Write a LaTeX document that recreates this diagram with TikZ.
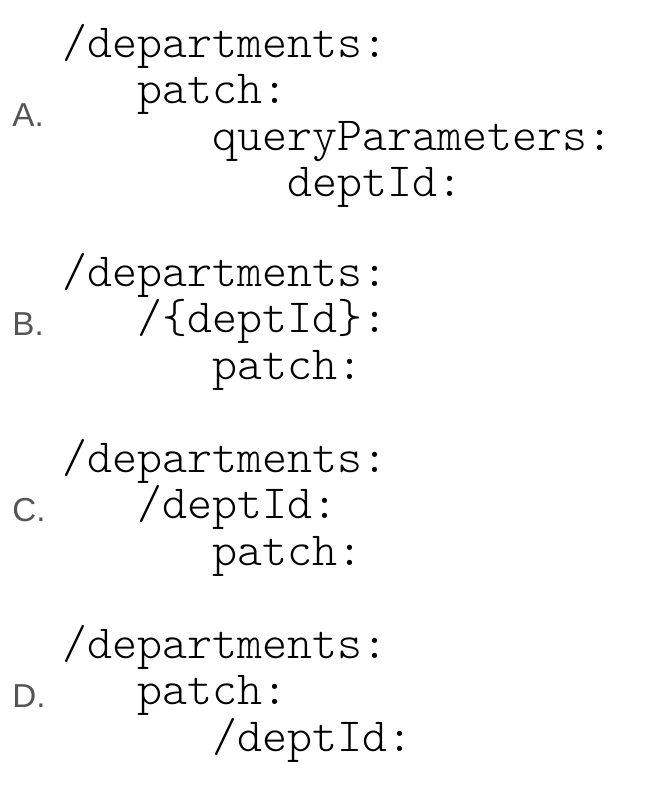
\documentclass[tikz,border=0pt]{standalone}
\usepackage{fontspec}
\setmonofont{Latin Modern Mono Light}
\newfontfamily\labelfont{Liberation Sans}
\usepackage{xcolor}
\definecolor{labelgray}{HTML}{555555}

\begin{document}
\begin{tikzpicture}[x=0.5pt,y=-0.5pt,
  code/.style={anchor=base west,inner sep=0pt,font=\ttfamily\fontsize{23.8}{26}\selectfont},
  tag/.style={anchor=base west,inner sep=0pt,text=labelgray,font=\labelfont\fontsize{16.6}{18}\selectfont}]
\useasboundingbox (0,0) rectangle (648,798);

\node[tag] (la) at (12,126) {A.};
\node[code] (a1) at (62,57) {/departments:};
\node[code] (a2) at (137,103.5) {patch:};
\node[code] (a3) at (212,150) {queryParameters:};
\node[code] (a4) at (287,196.5) {deptId:};

\node[tag] (lb) at (12,335) {B.};
\node[code] (b1) at (62,286) {/departments:};
\node[code] (b2) at (137,332.5) {/\{deptId\}:};
\node[code] (b3) at (212,379) {patch:};

\node[tag] (lc) at (12,521) {C.};
\node[code] (c1) at (62,472) {/departments:};
\node[code] (c2) at (137,518.5) {/deptId:};
\node[code] (c3) at (212,565) {patch:};

\node[tag] (ld) at (12,707) {D.};
\node[code] (d1) at (62,658) {/departments:};
\node[code] (d2) at (137,704.5) {patch:};
\node[code] (d3) at (212,751) {/deptId:};
\end{tikzpicture}
\end{document}
